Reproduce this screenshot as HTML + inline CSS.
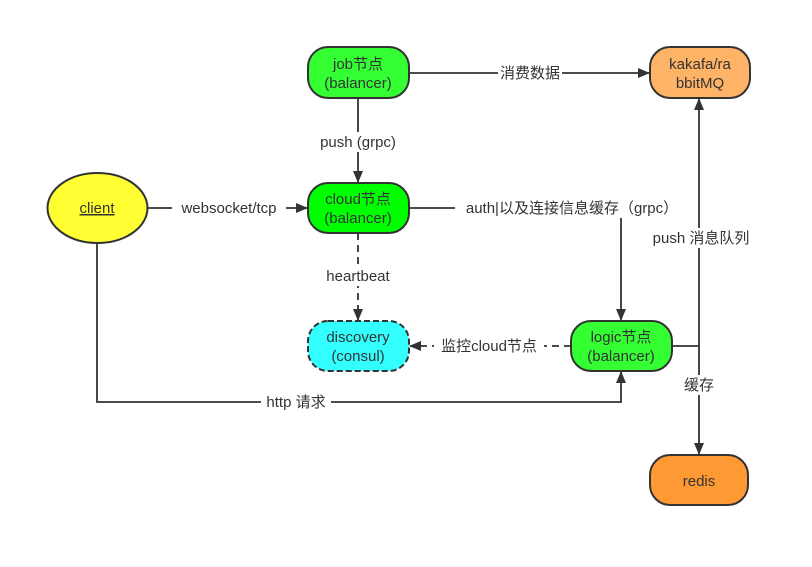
<!DOCTYPE html>
<html><head><meta charset="utf-8"><style>
html,body{margin:0;padding:0;background:#fff}
svg{display:block}
text{font-family:"Liberation Sans","Noto Sans CJK SC",sans-serif;font-size:15px;fill:#333}
</style></head><body>
<svg width="812" height="567" viewBox="0 0 812 567" xmlns="http://www.w3.org/2000/svg">
<defs>
<marker id="a" markerWidth="12" markerHeight="10" refX="11" refY="5" orient="auto" markerUnits="userSpaceOnUse">
<path d="M0,0 L12,5 L0,10 Z" fill="#333"/></marker>
</defs>
<g stroke="#333" stroke-width="1.8" fill="none">
<line x1="409" y1="73" x2="649" y2="73" marker-end="url(#a)"/>
<line x1="358" y1="98" x2="358" y2="182" marker-end="url(#a)"/>
<line x1="148" y1="208" x2="307" y2="208" marker-end="url(#a)"/>
<polyline points="409,208 621,208 621,320" marker-end="url(#a)"/>
<line x1="358" y1="233" x2="358" y2="320" stroke-dasharray="7,5" marker-end="url(#a)"/>
<line x1="571" y1="346" x2="410" y2="346" stroke-dasharray="7,5" marker-end="url(#a)"/>
<polyline points="97,243 97,402 621,402 621,372" marker-end="url(#a)"/>
<line x1="672" y1="346" x2="699" y2="346"/>
<line x1="699" y1="346" x2="699" y2="99" marker-end="url(#a)"/>
<line x1="699" y1="346" x2="699" y2="454" marker-end="url(#a)"/>
</g>
<g fill="#fff">
<rect x="498" y="63" width="64" height="20"/>
<rect x="314" y="132" width="88" height="20"/>
<rect x="172" y="198" width="114" height="20"/>
<rect x="455" y="198" width="234" height="20"/>
<rect x="319" y="266" width="78" height="20"/>
<rect x="434" y="336" width="110" height="20"/>
<rect x="261" y="392" width="70" height="20"/>
<rect x="647" y="228" width="108" height="20"/>
<rect x="684" y="375" width="30" height="20"/>
</g>
<g text-anchor="middle">
<text x="530" y="78">消费数据</text>
<text x="358" y="147">push (grpc)</text>
<text x="229" y="213">websocket/tcp</text>
<text x="572" y="213">auth|以及连接信息缓存（grpc）</text>
<text x="358" y="281">heartbeat</text>
<text x="489" y="351">监控cloud节点</text>
<text x="296" y="407">http 请求</text>
<text x="701" y="243">push 消息队列</text>
<text x="699" y="390">缓存</text>
</g>
<g stroke="#333" stroke-width="2">
<ellipse cx="97.5" cy="208" rx="50" ry="35" fill="#ffff33"/>
<rect x="308" y="47" width="101" height="51" rx="20" fill="#33ff33"/>
<rect x="650" y="47" width="100" height="51" rx="20" fill="#ffb366"/>
<rect x="308" y="183" width="101" height="50" rx="20" fill="#00ff00"/>
<rect x="308" y="321" width="101" height="50" rx="20" fill="#33ffff" stroke-dasharray="6,3"/>
<rect x="571" y="321" width="101" height="50" rx="20" fill="#33ff33"/>
<rect x="650" y="455" width="98" height="50" rx="20" fill="#ff9933"/>
</g>
<g text-anchor="middle">
<text x="97" y="213" text-decoration="underline">client</text>
<text x="358" y="69">job节点</text><text x="358" y="88">(balancer)</text>
<text x="700" y="69">kakafa/ra</text><text x="700" y="88">bbitMQ</text>
<text x="358" y="204">cloud节点</text><text x="358" y="223">(balancer)</text>
<text x="358" y="342">discovery</text><text x="358" y="361">(consul)</text>
<text x="621" y="342">logic节点</text><text x="621" y="361">(balancer)</text>
<text x="699" y="486">redis</text>
</g>
</svg>
</body></html>
